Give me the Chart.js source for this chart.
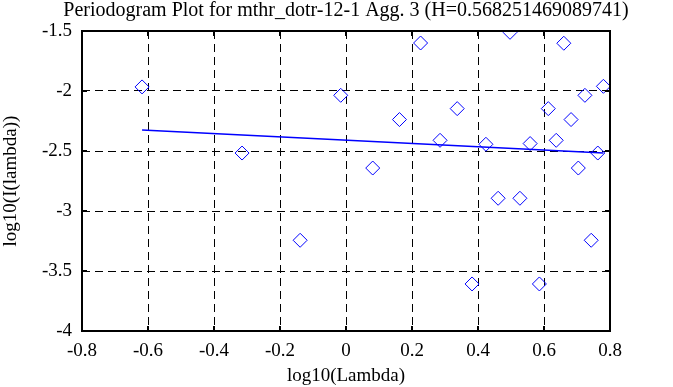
<!DOCTYPE html>
<html>
<head>
<meta charset="utf-8">
<script src="https://cdn.jsdelivr.net/npm/chart.js@4/dist/chart.umd.min.js"></script>
<style>
  html, body { margin: 0; padding: 0; background: #fff; }
  #wrap { width: 673px; height: 387px; }
</style>
</head>
<body>
<div id="wrap"><canvas id="pgram" width="673" height="387"></canvas></div>
<script>
// --- data ---
const chartTitle = 'Periodogram Plot for mthr_dotr-12-1 Agg. 3 (H=0.568251469089741)';
const xLabel = 'log10(Lambda)';
const yLabel = 'log10(I(lambda))';

// log10(lambda) of each periodogram point
const logLambda = [
  -0.618, -0.315, -0.139, -0.016, 0.081, 0.162, 0.226, 0.285, 0.337, 0.382,
  0.424, 0.461, 0.497, 0.527, 0.558, 0.586, 0.613, 0.637, 0.660, 0.682,
  0.704, 0.724, 0.743, 0.763, 0.780
];
// log10(I(lambda)) of each point
const logI = [
  -1.966, -2.517, -3.244, -2.036, -2.642, -2.238, -1.600, -2.411, -2.147, -3.608,
  -2.444, -2.894, -1.511, -2.894, -2.438, -3.608, -2.147, -2.411, -1.602, -2.238,
  -2.642, -2.036, -3.244, -2.517, -1.961
];
// least squares fit, endpoints
const fitX = [-0.618, 0.780];
const fitY = [-2.325, -2.516];

const xTicks = { min: -0.8, max: 0.8, step: 0.2 };
const yTicks = { min: -4, max: -1.5, step: 0.5 };

// --- chart ---
const serif = '"Liberation Serif", "Times New Roman", serif';
const fmt = v => String(Math.round(v * 10) / 10);

// frame round the plot area, small inward ticks, title centred over the plot
const frameBox = {
  id: 'frameBox',
  afterDraw(chart) {
    const a = chart.chartArea;
    const c = chart.ctx;
    c.save();
    c.strokeStyle = '#000';
    c.lineWidth = 2;
    c.strokeRect(a.left, a.top, a.right - a.left, a.bottom - a.top);

    const tl = 5;
    c.beginPath();
    chart.scales.x.ticks.forEach(t => {
      const px = Math.round(chart.scales.x.getPixelForValue(t.value));
      c.moveTo(px, a.top); c.lineTo(px, a.top + tl);
      c.moveTo(px, a.bottom); c.lineTo(px, a.bottom - tl);
    });
    chart.scales.y.ticks.forEach(t => {
      const py = Math.round(chart.scales.y.getPixelForValue(t.value));
      c.moveTo(a.left, py); c.lineTo(a.left + tl, py);
      c.moveTo(a.right, py); c.lineTo(a.right - tl, py);
    });
    c.stroke();

    c.fillStyle = '#000';
    c.font = '20px ' + serif;
    c.textAlign = 'center';
    c.textBaseline = 'alphabetic';
    c.fillText(chartTitle, (a.left + a.right) / 2, 16);
    c.restore();
  }
};

const ctx = document.getElementById('pgram').getContext('2d');
new Chart(ctx, {
  type: 'scatter',
  data: {
    datasets: [
      {
        label: 'periodogram',
        data: logLambda.map((x, i) => ({ x: x, y: logI[i] })),
        pointStyle: 'rectRot',
        pointRadius: 7,
        pointHoverRadius: 7,
        pointBorderWidth: 1,
        borderColor: '#0000ff',
        backgroundColor: 'rgba(0,0,0,0)',
        showLine: false
      },
      {
        label: 'fit',
        type: 'line',
        data: fitX.map((x, i) => ({ x: x, y: fitY[i] })),
        borderColor: '#0000ff',
        borderWidth: 1.5,
        pointRadius: 0,
        fill: false
      }
    ]
  },
  options: {
    responsive: false,
    animation: false,
    layout: { padding: { left: 0, right: 63, top: 31, bottom: 0 } },
    plugins: {
      legend: { display: false },
      tooltip: { enabled: false },
      title: { display: false }
    },
    scales: {
      x: {
        type: 'linear',
        min: xTicks.min,
        max: xTicks.max,
        afterFit(scale) { scale.height = 56; },
        ticks: {
          stepSize: xTicks.step,
          color: '#000',
          padding: 9,
          font: { family: serif, size: 19 },
          maxRotation: 0,
          callback: fmt
        },
        grid: {
          color: '#000',
          lineWidth: 1,
          drawTicks: false
        },
        border: { display: false, dash: [8, 5] },
        title: {
          display: true,
          text: xLabel,
          color: '#000',
          font: { family: serif, size: 19 },
          padding: { top: 2, bottom: 0 }
        }
      },
      y: {
        type: 'linear',
        min: yTicks.min,
        max: yTicks.max,
        afterFit(scale) { scale.width = 82; },
        ticks: {
          stepSize: yTicks.step,
          color: '#000',
          padding: 10,
          font: { family: serif, size: 19 },
          callback: fmt
        },
        grid: {
          color: '#000',
          lineWidth: 1,
          drawTicks: false
        },
        border: { display: false, dash: [8, 5] },
        title: {
          display: true,
          text: yLabel,
          color: '#000',
          font: { family: serif, size: 19 },
          padding: { top: 0, bottom: 0 }
        }
      }
    }
  },
  plugins: [frameBox]
});
</script>
</body>
</html>
